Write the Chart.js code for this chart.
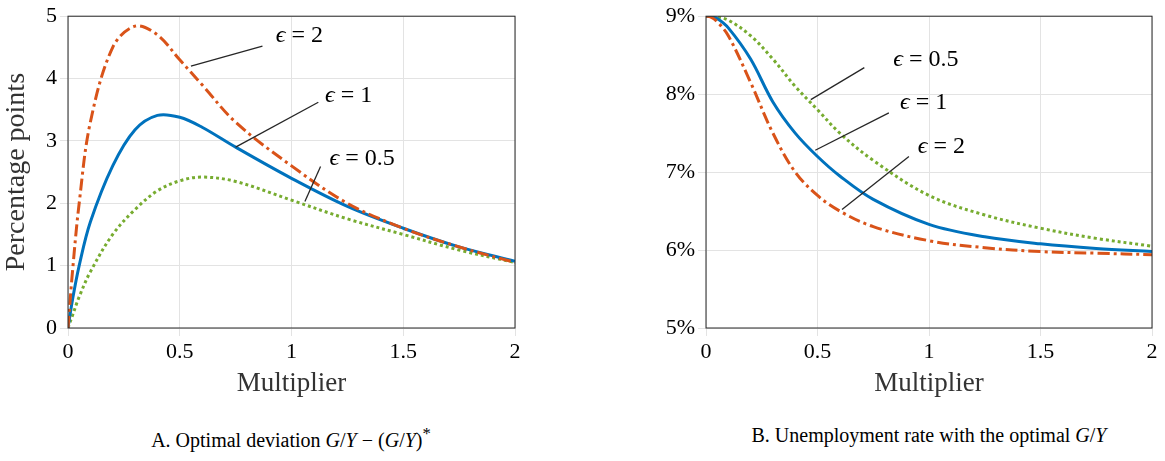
<!DOCTYPE html>
<html><head><meta charset="utf-8">
<script src="https://cdn.jsdelivr.net/npm/chart.js@4"></script>
<style>
body{margin:0;background:#fff;width:1165px;height:461px;position:relative;overflow:hidden;font-family:"Liberation Serif",serif}
.c{position:absolute;top:0;height:400px}
.cap{position:absolute;top:424px;font-size:20px;white-space:nowrap;transform:translateX(-50%)}
</style></head><body>
<div class="c" style="left:0;width:540px"><canvas id="a"></canvas></div>
<div class="c" style="left:620px;width:545px"><canvas id="b"></canvas></div>
<div class="cap" style="left:291px">A. Optimal deviation <i>G</i>/<i>Y</i> − (<i>G</i>/<i>Y</i>)<sup>*</sup></div>
<div class="cap" style="left:929px">B. Unemployment rate with the optimal <i>G</i>/<i>Y</i></div>
<script>
const xs=[0,0.02,0.05,0.1,0.2,0.3,0.4,0.5,0.6,0.75,1,1.25,1.5,1.75,2];
const devE2=[0,0.9,2.0,3.3,4.5,4.84,4.7,4.3,3.9,3.3,2.6,2.0,1.6,1.3,1.05];
const devE1=[0,0.45,1.0,1.7,2.6,3.18,3.41,3.38,3.22,2.9,2.4,1.95,1.6,1.3,1.07];
const devE05=[0,0.2,0.5,0.9,1.5,1.9,2.2,2.36,2.42,2.35,2.05,1.75,1.5,1.25,1.05];
const unE2=[9,8.99,8.93,8.75,8.15,7.5,7.0,6.7,6.5,6.3,6.12,6.03,5.98,5.96,5.94];
const unE1=[9,9,8.97,8.85,8.45,7.9,7.5,7.2,6.95,6.65,6.33,6.17,6.08,6.02,5.98];
const unE05=[9,9,8.99,8.95,8.75,8.45,8.1,7.8,7.5,7.15,6.7,6.45,6.28,6.15,6.05];
const labels=['ϵ = 2','ϵ = 1','ϵ = 0.5'];
const annA=[[0.93,4.68,0.87,4.52,0.55,4.2],[1.15,3.73,1.12,3.62,0.75,2.9],[1.17,2.71,1.13,2.59,1.06,2.03]];
const annB=[[0.95,7.32,0.91,7.2,0.61,6.52],[0.87,7.89,0.82,7.76,0.49,7.28],[0.84,8.44,0.71,8.34,0.47,7.93]];
const cols=['#D95319','#0072BD','#77AC30'];
const dashes=[[12,4,3,4],[],[3,3]];
function ds(arrs){return arrs.map((a,i)=>({label:labels[i],data:xs.map((x,j)=>({x,y:a[j]})),borderColor:cols[i],borderDash:dashes[i],borderWidth:3,pointRadius:0,tension:0.35,fill:false}));}
const F='"Liberation Serif", serif';
function mk(id,arrs,ymin,ymax,pct,ann,yw,title){
 const plug={id:'p'+id,afterDraw(c){const x=c.scales.x,y=c.scales.y,g=c.ctx,a=c.chartArea;g.save();
  g.strokeStyle='#262626';g.lineWidth=1;g.strokeRect(a.left,a.top,a.right-a.left,a.bottom-a.top);
  g.fillStyle='#000';g.textBaseline='middle';
  ann.forEach((n,i)=>{g.beginPath();g.moveTo(x.getPixelForValue(n[2]),y.getPixelForValue(n[3]));g.lineTo(x.getPixelForValue(n[4]),y.getPixelForValue(n[5]));g.lineWidth=1.3;g.stroke();
   const t=labels[i],px=x.getPixelForValue(n[0]),py=y.getPixelForValue(n[1]);
   g.font='italic 24px '+F;g.fillText('ϵ',px,py);const w=g.measureText('ϵ').width;g.font='24px '+F;g.fillText(t.slice(1),px+w,py);});
  g.restore();}};
 return new Chart(document.getElementById(id),{type:'line',data:{datasets:ds(arrs)},plugins:[plug],
 options:{responsive:true,maintainAspectRatio:false,animation:false,layout:{padding:{top:13,right:id=='a'?25:13}},
 plugins:{legend:{display:false},tooltip:{enabled:false}},
 scales:{x:{type:'linear',min:0,max:2,ticks:{stepSize:0.5,color:'#000',font:{family:F,size:22},callback:v=>String(v)},grid:{color:'#e3e3e3'},border:{display:false},
   title:{display:true,text:'Multiplier',color:'#333',font:{family:F,size:27},padding:0},afterFit(s){s.height=72}},
  y:{min:ymin,max:ymax,ticks:{stepSize:1,color:'#000',font:{family:F,size:22},callback:v=>pct?v+'%':v},grid:{color:'#e3e3e3'},border:{display:false},
   title:{display:!!title,text:title,color:'#333',font:{family:F,size:28},padding:0},afterFit(s){s.width=yw}}}}});
}
mk('a',[devE2,devE1,devE05],0,5,false,annA,68,'Percentage points');
mk('b',[unE2,unE1,unE05],5,9,true,annB,86,'');
</script></body></html>
